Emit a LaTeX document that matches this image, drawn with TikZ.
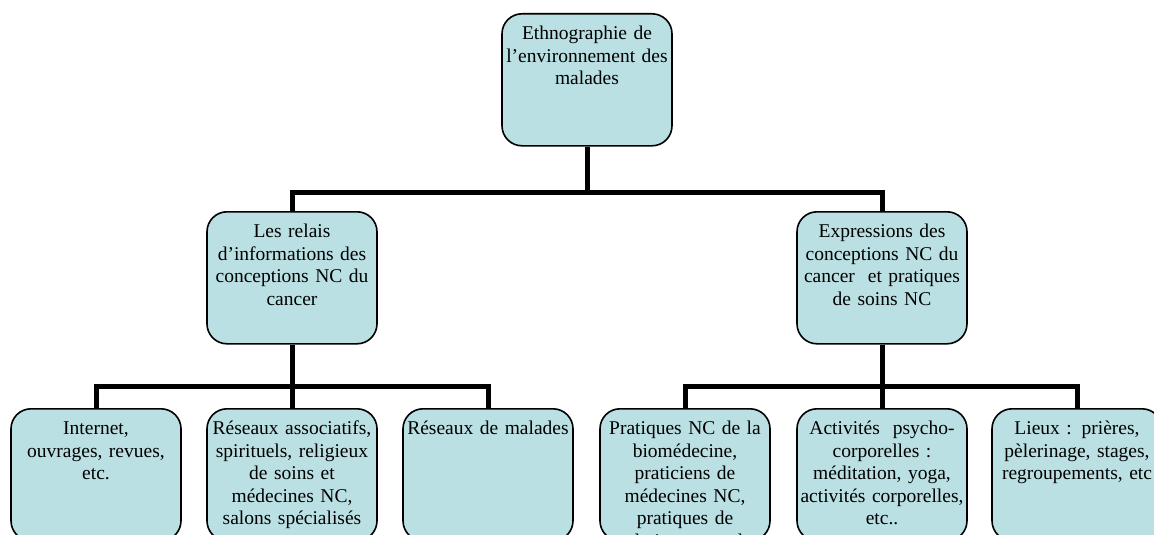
\documentclass[tikz,border=0pt]{standalone}
\usepackage{fontspec}
\setmainfont{Liberation Serif}
\definecolor{bleuclair}{RGB}{186,224,227}

\begin{document}
\begin{tikzpicture}[x=1pt, y=-1pt]
                \tikzstyle{boite}=[rectangle, rounded corners=20pt, draw=black, line width=1.6pt, fill=bleuclair,
                                   anchor=north, minimum width=170pt, text width=164pt, inner xsep=3pt, inner ysep=6pt,
                                   align=center, text height=20pt, text depth=100pt,
                                   font=\fontsize{19.5}{22.5}\selectfont]
                \tikzstyle{lien}=[line width=5pt, draw=black]

                    \useasboundingbox (0,0) rectangle (1154,535);
                    \clip (0,0) rectangle (1154,535);

                    % Boîtes
                    \node[boite] (racine) at (587,13) {Ethnographie de\\l’environnement des\\malades};
                    \node[boite] (relais) at (292,211) {Les relais\\d’informations des\\conceptions NC du\\cancer};
                    \node[boite] (expr) at (882,211) {Expressions des\\conceptions NC du\\cancer\ \ et pratiques\\de soins NC};
                    \node[boite] (internet) at (96,408) {Internet,\\ouvrages, revues,\\etc.};
                    \node[boite] (reseaux) at (292,408) {Réseaux associatifs,\\spirituels, religieux\\de soins et\\médecines NC,\\salons spécialisés};
                    \node[boite] (malades) at (488,408) {Réseaux de malades};
                    \node[boite] (pratiques) at (685,408) {Pratiques NC de la\\biomédecine,\\praticiens de\\médecines NC,\\pratiques de\\techniques psycho};
                    \node[boite] (activites) at (882,408) {Activités\ \ psycho-\\corporelles :\\méditation, yoga,\\activités corporelles,\\etc..};
                    \node[boite] (lieux) at (1077,408) {Lieux : prières,\\pèlerinage, stages,\\regroupements, etc};

                    \coordinate (j0) at (587,192);
                    \coordinate (j1) at (292,386);
                    \coordinate (j2) at (882,386);

                    % Liens
                    \draw[lien] (racine.south) -- (j0);
                    \draw[lien] (j0) -| (relais.north);
                    \draw[lien] (j0) -| (expr.north);
                    \draw[lien] (relais.south) -- (j1);
                    \draw[lien] (j1) -| (internet.north);
                    \draw[lien] (j1) -- (reseaux.north);
                    \draw[lien] (j1) -| (malades.north);
                    \draw[lien] (expr.south) -- (j2);
                    \draw[lien] (j2) -| (pratiques.north);
                    \draw[lien] (j2) -- (activites.north);
                    \draw[lien] (j2) -| (lieux.north);
            \end{tikzpicture}
\end{document}
